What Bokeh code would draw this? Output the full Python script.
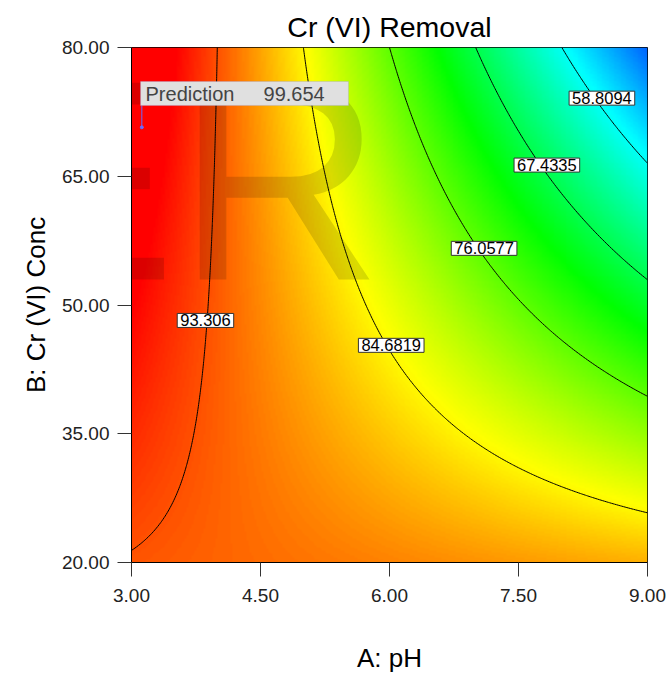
import numpy as np
from bokeh.plotting import figure
from bokeh.models import (ColumnDataSource, LinearColorMapper, FixedTicker, PrintfTickFormatter,
                          Label, BoxAnnotation, Range1d)
from bokeh.core.properties import value
from bokeh.embed import file_html
from bokeh.resources import INLINE

# ---- data ----
ph_ticks = [3.0, 4.5, 6.0, 7.5, 9.0]
conc_ticks = [20, 35, 50, 65, 80]
# quadratic response-surface model in coded units (A: pH, B: Cr(VI) conc)
coef_terms = ["Intercept", "A", "B", "AB", "A^2", "B^2"]
coef_values = [83.39, -14.10, -7.33, -11.73, 0.01, 0.00]
contour_levels = [58.8094, 67.4335, 76.0577, 84.6819, 93.306]
contour_texts = ["58.8094", "67.4335", "76.0577", "84.6819", "93.306"]
pred_ph = [3.12]
pred_conc = [70.7]
pred_value = 99.654
watermark = "ER"

# ---- positions (label placement along contours) ----
lab_x = [8.47, 7.83, 7.10, 6.02, 3.86]
lab_y = [74.1, 66.3, 56.6, 45.3, 48.2]

ph = np.linspace(3, 9, 301)
cn = np.linspace(20, 80, 301)
AA, BB = np.meshgrid((ph - 6) / 3, (cn - 50) / 30)
c = coef_values
Z = c[0] + c[1]*AA + c[2]*BB + c[3]*AA*BB + c[4]*AA**2 + c[5]*BB**2

stops = [(0, 0, 255), (0, 255, 255), (0, 255, 0), (255, 255, 0), (255, 0, 0)]
pal = []
for i in range(256):
    t = i / 255 * 4
    j = min(int(t), 3); f = t - j
    c0, c1 = stops[j], stops[j + 1]
    pal.append("#%02x%02x%02x" % tuple(int(round(c0[k] + (c1[k] - c0[k]) * f)) for k in range(3)))
mapper = LinearColorMapper(palette=pal, low=45, high=97.5)

p = figure(width=668, height=676, output_backend="svg", toolbar_location=None,
           x_range=Range1d(3, 9), y_range=Range1d(20, 80),
           min_border_left=131, min_border_right=21, min_border_top=47, min_border_bottom=114,
           title="Cr (VI) Removal")
p.image(image=[Z], x=3, y=20, dw=6, dh=60, color_mapper=mapper, level="image")
p.contour(x=ph, y=cn, z=Z, levels=contour_levels, line_color="black", line_width=1)

# watermark (part inside the plot frame; the part outside is an HTML overlay clipped to the margins)
p.add_layout(Label(x=1.302, y=64.5, text=watermark, text_font="Liberation Sans",
                   text_font_size="286px", text_color="black", text_alpha=0.14,
                   text_baseline="middle", level="annotation"))

# contour labels
src = ColumnDataSource(dict(x=lab_x, y=lab_y, text=contour_texts))
p.text(x="x", y="y", text="text", source=src, text_align="center", text_baseline="middle",
       text_font=value("Liberation Sans"), text_font_size="16.5px", text_color="black",
       background_fill_color="white", border_line_color="#333333", border_line_width=1,
       padding=[3, 1], level="overlay")

# prediction flag
p.segment(x0=pred_ph, y0=pred_conc, x1=pred_ph, y1=[73.25], line_color="#6a6aff", line_width=1)
p.scatter(pred_ph, pred_conc, size=3, color="#6a6aff")
p.add_layout(BoxAnnotation(left=3.105, right=5.523, bottom=73.25, top=76.04,
                           fill_color="#e0e0e0", fill_alpha=1, line_color="#9a9ad8",
                           line_width=1, level="overlay"))
p.add_layout(Label(x=3.163, y=74.64, text="Prediction", text_font="Liberation Sans",
                   text_font_size="20px", text_baseline="middle", level="overlay"))
p.add_layout(Label(x=4.535, y=74.64, text="%.3f" % pred_value, text_font="Liberation Sans",
                   text_font_size="20px", text_baseline="middle", level="overlay"))

p.grid.visible = False
p.outline_line_color = "black"
p.title.align = "center"
p.title.text_font = "Liberation Sans"
p.title.text_font_size = "28.5px"
p.title.text_font_style = "normal"
p.title.text_color = "black"
for ax in (p.xaxis[0], p.yaxis[0]):
    ax.major_tick_in = 0
    ax.major_tick_out = 14
    ax.minor_tick_line_color = None
    ax.axis_line_color = "black"
    ax.major_tick_line_color = "#333333"
    ax.major_label_text_font = "Liberation Sans"
    ax.major_label_text_font_size = "19px"
    ax.major_label_text_color = "#222222"
    ax.axis_label_text_font = "Liberation Sans"
    ax.axis_label_text_font_size = "26px"
    ax.axis_label_text_font_style = "normal"
    ax.axis_label_text_color = "black"
    ax.formatter = PrintfTickFormatter(format="%.2f")
p.xaxis.ticker = FixedTicker(ticks=ph_ticks)
p.yaxis.ticker = FixedTicker(ticks=conc_ticks)
p.xaxis.axis_label = "A: pH"
p.yaxis.axis_label = "B: Cr (VI) Conc"
p.xaxis.major_label_standoff = 12
p.yaxis.major_label_standoff = 8
p.xaxis.axis_label_standoff = 38
p.yaxis.axis_label_standoff = 8

TEMPLATE = """<!DOCTYPE html>
<html lang="en">
<head>
<meta charset="utf-8">
<title>{{ title }}</title>
<style>html, body { box-sizing: border-box; margin: 0; padding: 0; background: white; }</style>
{{ bokeh_css }}
{{ bokeh_js }}
</head>
<body>
<div style="position: relative; width: 668px; height: 676px;">
<div style="position: relative; z-index: 1;">
{{ plot_div }}
</div>
<div style="position: absolute; left: -15px; top: 38px; width: 700px; height: 330px; z-index: 2; font-family: 'Liberation Sans'; font-size: 286px; line-height: 286px; color: rgba(0,0,0,0.14); white-space: pre; pointer-events: none; clip-path: polygon(evenodd, 0px 0px, 700px 0px, 700px 330px, 0px 330px, 0px 0px, 146px 9px, 146px 330px, 662px 330px, 662px 9px, 146px 9px);">{{ wm }}</div>
</div>
{{ plot_script }}
</body>
</html>
"""

open("out.html", "w").write(file_html(p, INLINE, template=TEMPLATE,
                                      template_variables={"wm": watermark}))
